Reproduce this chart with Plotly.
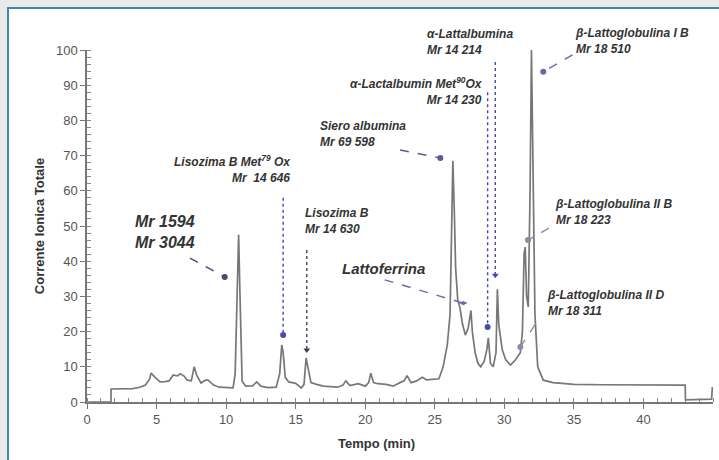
import plotly.graph_objects as go

# Chromatogram trace (time in min, total ion current)
tempo = [0, 1.72, 1.73, 2.5, 3.3, 3.8, 4.2, 4.5, 4.6, 4.9, 5.25, 5.6, 5.9, 6.2, 6.5, 6.7, 7.0, 7.2, 7.5, 7.7, 7.9, 8.2, 8.5, 8.7, 9.1, 9.5, 10.0, 10.5, 10.65,
         10.8, 10.9, 11.0, 11.15, 11.4, 11.9, 12.2, 12.5, 13.0, 13.6, 13.85, 14.0, 14.1, 14.25, 14.5, 15.0, 15.4, 15.6, 15.75, 15.9, 16.1,
         16.5, 17.0, 18.0, 18.4, 18.6, 18.9, 19.5, 20.0, 20.25, 20.4, 20.6, 20.9, 21.5, 22.0, 22.5, 22.8, 23.0, 23.3, 23.7, 24.1, 24.4,
         25.0, 25.3, 25.6, 25.9, 26.1, 26.2, 26.3, 26.4, 26.5, 26.65, 26.8, 27.0, 27.2, 27.4, 27.6, 27.7, 27.9, 28.1, 28.3, 28.55,
         28.75, 28.85, 29.0, 29.2, 29.4, 29.5, 29.6, 29.85, 30.1, 30.45, 30.8, 31.15, 31.3, 31.42, 31.5, 31.6, 31.72, 31.85, 31.95, 32.05,
         32.2, 32.4, 32.8, 33.5, 35.0, 37.0, 40.0, 43.0, 43.02, 44.9, 44.95, 45.0]
corrente = [0, 0, 3.7, 3.7, 3.8, 4.2, 4.8, 6.5, 8.2, 7.0, 5.7, 5.8, 6.0, 7.7, 7.4, 8.0, 7.3, 6.2, 6.0, 10.0, 7.5, 5.4, 6.2, 6.2, 4.8, 4.2, 4.0, 4.0, 8.0,
            35.0, 47.5, 30.0, 6.0, 4.5, 4.6, 5.7, 4.5, 4.1, 4.2, 8.0, 16.2, 14.0, 7.0, 5.7, 5.3, 4.0, 5.0, 12.5, 9.0, 5.5,
            5.0, 4.5, 4.2, 4.8, 6.0, 4.7, 5.2, 4.5, 5.5, 8.2, 5.5, 5.2, 5.0, 4.5, 5.5, 6.0, 7.5, 5.5, 6.0, 7.0, 6.3,
            6.5, 6.6, 10.0, 16.2, 25.0, 50.0, 68.5, 55.0, 38.0, 29.0, 27.0, 22.0, 19.0, 21.0, 26.0, 20.0, 14.0, 11.0, 10.0, 11.5,
            15.0, 18.2, 11.0, 10.0, 14.0, 32.0, 22.0, 14.8, 12.0, 10.5, 12.0, 14.0, 20.0, 42.0, 44.0, 30.0, 27.0, 60.0, 100.0, 70.0,
            25.0, 10.0, 6.2, 5.5, 5.0, 4.9, 4.8, 4.8, 0.6, 0.8, 4.0, 4.0]

x_ticks = [0, 5, 10, 15, 20, 25, 30, 35, 40]
y_ticks = [0, 10, 20, 30, 40, 50, 60, 70, 80, 90, 100]

# Peak labels: text, text anchor (x in data units, y as fraction of the 0-100 axis), horizontal anchor, font size
label_texts = [
    "Mr 1594<br>Mr 3044",
    "Lisozima B Met<sup>79</sup> Ox<br>Mr  14 646",
    "Lisozima B<br>Mr 14 630",
    "Siero albumina<br>Mr 69 598",
    "α-Lactalbumin Met<sup>90</sup>Ox<br>Mr 14 230",
    "α-Lattalbumina<br>Mr 14 214",
    "β-Lattoglobulina I B<br>Mr 18 510",
    "β-Lattoglobulina II B<br>Mr 18 223",
    "Lattoferrina",
    "β-Lattoglobulina II D<br>Mr 18 311",
]
label_x = [3.3, 14.8, 15.5, 16.6, 28.6, 24.3, 34.9, 33.5, 18.2, 32.95]
label_y = [0.483, 0.662, 0.514, 0.761, 0.884, 1.023, 1.026, 0.540, 0.380, 0.281]
label_anchor = ["left", "right", "left", "left", "right", "left", "left", "left", "left", "left"]
label_size = [16, 12, 12, 12, 12, 12, 12, 12, 15, 12]

# Pointer lines: start (x0, y0) -> end (x1, y1), dash, colour, end symbol
ptr_x0 = [7.4, 14.1, 15.8, 22.5, 28.8, 29.35, 34.9, 33.2, 21.4, 32.2]
ptr_y0 = [40.9, 58.0, 43.2, 71.6, 88.0, 96.6, 98.6, 49.4, 34.7, 21.9]
ptr_x1 = [9.9, 14.1, 15.8, 25.4, 28.8, 29.35, 32.8, 31.7, 27.05, 31.15]
ptr_y1 = [35.5, 19.0, 14.8, 69.3, 21.3, 36.0, 93.8, 46.0, 28.1, 15.6]
ptr_dash = ["dash", "dot", "dot", "dash", "dot", "dot", "dash", "dash", "dash", "dash"]
ptr_color = ["#4a4a78", "#4848b0", "#404058", "#5a5a98", "#4848b0", "#4848b0", "#6a6aa8", "#8a8aa8", "#6a6aa8", "#8a8aa8"]
ptr_symbol = ["circle", "circle", "triangle-down", "circle", "circle", "triangle-down", "circle", "circle", "diamond-wide", "circle"]

fig = go.Figure()

fig.add_trace(go.Scatter(x=tempo, y=corrente, mode="lines",
                         line=dict(color="#777777", width=1.7), hoverinfo="skip", showlegend=False))

for i in range(len(ptr_x0)):
    fig.add_trace(go.Scatter(x=[ptr_x0[i], ptr_x1[i]], y=[ptr_y0[i], ptr_y1[i]], mode="lines",
                             line=dict(color=ptr_color[i], width=1.4, dash=ptr_dash[i]),
                             hoverinfo="skip", showlegend=False, cliponaxis=False))
    fig.add_trace(go.Scatter(x=[ptr_x1[i]], y=[ptr_y1[i]], mode="markers",
                             marker=dict(color=ptr_color[i], size=6, symbol=ptr_symbol[i]),
                             hoverinfo="skip", showlegend=False, cliponaxis=False))

for i, t in enumerate(label_texts):
    fig.add_annotation(x=label_x[i], y=label_y[i], xref="x", yref="paper", text="<b><i>" + t + "</i></b>",
                       showarrow=False, xanchor=label_anchor[i], yanchor="middle", align=label_anchor[i],
                       font=dict(family="Liberation Sans, Arial, sans-serif", size=label_size[i], color="#333333"))

fig.add_annotation(x=20.8, y=-0.118, xref="x", yref="paper", text="<b>Tempo (min)</b>", showarrow=False,
                   xanchor="center", yanchor="middle",
                   font=dict(family="Liberation Sans, Arial, sans-serif", size=13, color="#333333"))

# white panel with border on top/left
fig.add_shape(type="rect", xref="paper", yref="paper", x0=-0.1262, x1=1.2, y0=-0.3, y1=1.119,
              fillcolor="white", line=dict(color="#3f8a9e", width=2), layer="below")

axis_font = dict(family="Liberation Sans, Arial, sans-serif", size=13, color="#555555")
fig.update_xaxes(range=[0, 45], tickvals=x_ticks, ticks="outside", ticklen=5, tickcolor="#777777",
                 showline=True, linecolor="#777777", linewidth=1.5, showgrid=False, zeroline=False,
                 tickfont=axis_font,
                 minor=dict(dtick=1, tick0=0, ticks="inside", ticklen=4, tickcolor="#888888", showgrid=False))
fig.update_yaxes(range=[0, 100], tickvals=y_ticks, ticks="outside", ticklen=5, tickcolor="#777777",
                 showline=True, linecolor="#777777", linewidth=1.5, showgrid=False, zeroline=False,
                 tickfont=axis_font,
                 title=dict(text="<b>Corrente Ionica Totale</b>", standoff=8,
                            font=dict(family="Liberation Sans, Arial, sans-serif", size=13, color="#333333")),
                 minor=dict(dtick=2, tick0=0, ticks="inside", ticklen=4, tickcolor="#888888", showgrid=False))

fig.update_layout(width=719, height=460, margin=dict(l=87, r=6, t=50, b=58, autoexpand=False),
                  paper_bgcolor="#e9eaec", plot_bgcolor="rgba(0,0,0,0)", showlegend=False)

fig.write_html("out.html", config={"displayModeBar": False},
               post_script="document.body.style.margin='0';document.body.style.overflow='hidden';document.body.style.background='#e9eaec';")
